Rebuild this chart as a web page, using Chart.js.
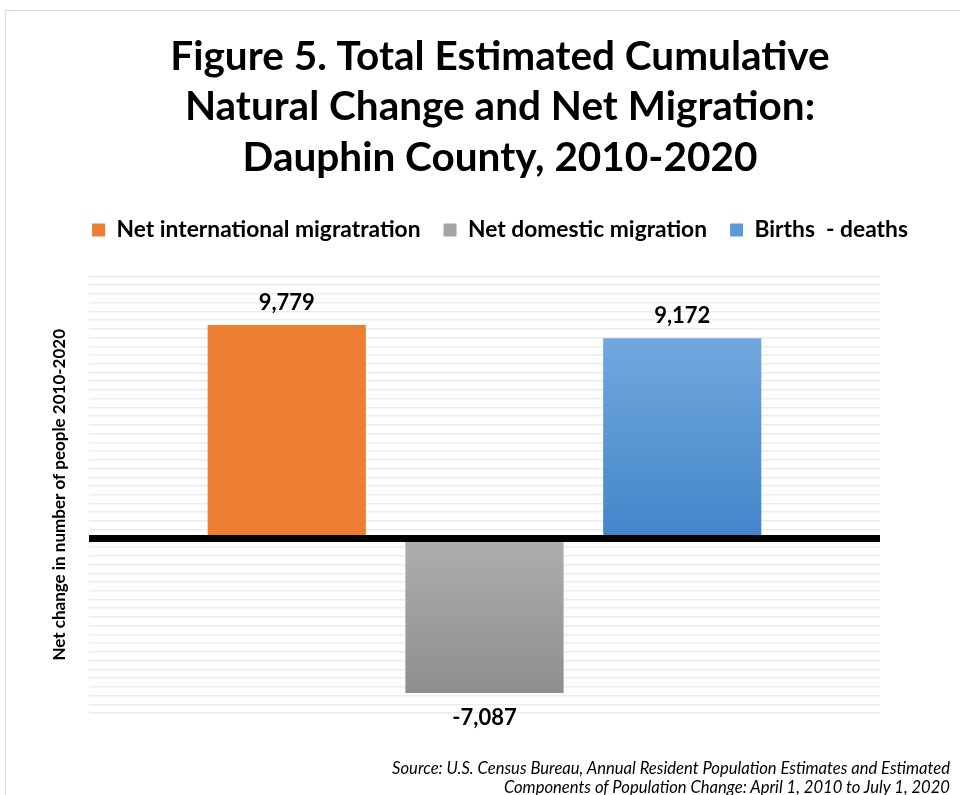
<!DOCTYPE html>
<html>
<head>
<meta charset="utf-8">
<script src="https://cdn.jsdelivr.net/npm/chart.js@4.4.1/dist/chart.umd.min.js"></script>
<style>
  html, body { margin: 0; padding: 0; background: #fff; }
  #wrap { position: relative; width: 960px; height: 795px; overflow: hidden; }
  #frame { position: absolute; left: 5px; top: 10px; width: 1000px; height: 900px;
    border-top: 1px solid #d6dde6; border-left: 1px solid #d6dde6; }
  #source { position: absolute; right: 10px; top: 759px; text-align: right;
    font: italic 16.6px Lato, sans-serif; line-height: 19px; color: #000; }
</style>
</head>
<body>
<div id="wrap">
  <div id="frame"></div>
  <canvas id="fig5"></canvas>
  <div id="source">Source: U.S. Census Bureau, Annual Resident Population Estimates and Estimated<br>Components of Population Change: April 1, 2010 to July 1, 2020</div>
</div>
<script>
const seriesNames = ["Net international migratration", "Net domestic migration", "Births  - deaths"];
const seriesValues = [9779, -7087, 9172];
const legendColors = ["#ED7D31", "#A5A5A5", "#5B9BD5"];
// top / bottom of each bar's gradient
const gradStops = [["#ED7D31", "#ED7D31"], ["#AEAEAE", "#8E8E8E"], ["#72A7DD", "#4286CA"]];

const yMin = -8000, yMax = 12000, yStep = 400;

function barFill(i) {
  return (ctx) => {
    const chart = ctx.chart;
    const y = chart.scales.y;
    if (!chart.chartArea || !y) return legendColors[i];
    const top = y.getPixelForValue(Math.max(seriesValues[i], 0));
    const bottom = y.getPixelForValue(Math.min(seriesValues[i], 0));
    const g = chart.ctx.createLinearGradient(0, top, 0, bottom);
    g.addColorStop(0, gradStops[i][0]);
    g.addColorStop(1, gradStops[i][1]);
    return g;
  };
}

const datasets = seriesNames.map((name, i) => ({
  label: name,
  data: [seriesValues[i]],
  backgroundColor: barFill(i),
  borderWidth: 0,
  categoryPercentage: 0.75,
  barPercentage: 0.8,
}));

// thick zero line on top of the bars, and value labels
const zeroAndLabels = {
  id: "zeroAndLabels",
  afterDatasetsDraw(chart) {
    const { ctx, chartArea, scales } = chart;
    const y0 = scales.y.getPixelForValue(0);
    ctx.save();
    ctx.strokeStyle = "#000";
    ctx.lineWidth = 7;
    ctx.beginPath();
    ctx.moveTo(chartArea.left, y0);
    ctx.lineTo(chartArea.right, y0);
    ctx.stroke();

    ctx.fillStyle = "#000";
    ctx.font = "bold 22px Lato, sans-serif";
    ctx.textAlign = "center";
    ctx.textBaseline = "middle";
    chart.data.datasets.forEach((ds, i) => {
      const bar = chart.getDatasetMeta(i).data[0];
      const v = ds.data[0];
      const txt = v.toLocaleString("en-US");
      const ty = v >= 0 ? bar.y - 22 : bar.y + 25;
      ctx.fillText(txt, bar.x, ty);
    });
    ctx.restore();
  },
};

new Chart(document.getElementById("fig5"), {
  type: "bar",
  data: { labels: [""], datasets: datasets },
  options: {
    responsive: true,
    maintainAspectRatio: false,
    animation: false,
    layout: { padding: { left: 45, right: 5, top: 0, bottom: 82 } },
    plugins: {
      title: {
        display: true,
        text: ["Figure 5. Total Estimated Cumulative", "Natural Change and Net Migration:", "Dauphin County, 2010-2020"],
        color: "#000",
        font: { family: "Lato, sans-serif", size: 40.5, weight: "bold", lineHeight: 1.24 },
        padding: { top: 32, bottom: 13 },
      },
      legend: {
        position: "top",
        labels: {
          color: "#000",
          font: { family: "Lato, sans-serif", size: 22.8, weight: "bold" },
          boxWidth: 13,
          boxHeight: 13,
          padding: 23,
          generateLabels: (chart) => seriesNames.map((n, i) => ({
            text: n, fillStyle: legendColors[i], strokeStyle: legendColors[i],
            lineWidth: 0, datasetIndex: i, hidden: false,
          })),
        },
      },
      tooltip: { enabled: false },
    },
    scales: {
      x: {
        position: "top",
        ticks: { display: false },
        grid: { display: false, drawTicks: false },
        border: { display: false },
        afterFit: (s) => { s.height = 25; },
      },
      y: {
        min: yMin,
        max: yMax,
        ticks: { display: false, stepSize: yStep },
        grid: { color: "#ececec", lineWidth: 1.5, drawTicks: false },
        border: { display: false },
        title: {
          display: true,
          text: "Net change in number of people 2010-2020",
          color: "#000",
          font: { family: "Lato, sans-serif", size: 17, weight: "bold", lineHeight: 1.2 },
          padding: { top: 4, bottom: 19.6 },
        },
      },
      yRight: {
        position: "right",
        ticks: { display: false },
        grid: { display: false, drawTicks: false },
        border: { display: false },
        afterFit: (s) => { s.width = 75; },
      },
    },
  },
  plugins: [zeroAndLabels],
});
</script>
</body>
</html>
